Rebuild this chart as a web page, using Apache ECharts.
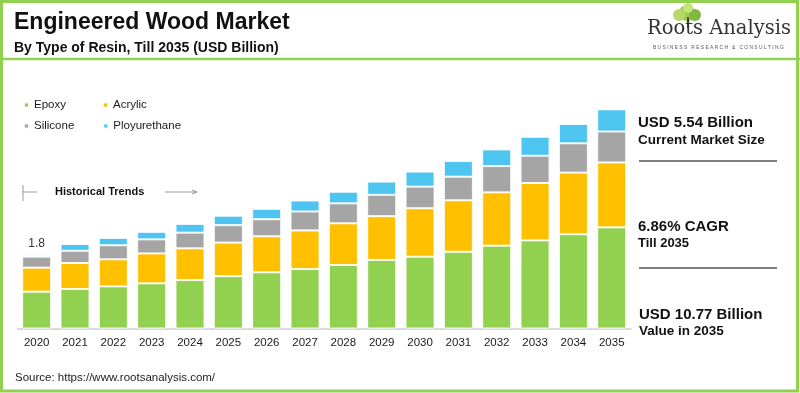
<!DOCTYPE html>
<html>
<head>
<meta charset="utf-8">
<script src="https://cdn.jsdelivr.net/npm/echarts@6/dist/echarts.min.js"></script>
<style>
html,body{margin:0;padding:0;background:#fff;}
#chart{width:800px;height:393px;}
</style>
</head>
<body>
<div id="chart"></div>
<script>
const years = ['2020','2021','2022','2023','2024','2025','2026','2027','2028','2029','2030','2031','2032','2033','2034','2035'];
const epoxy = [1.81,1.94,2.07,2.22,2.38,2.57,2.76,2.92,3.12,3.37,3.53,3.77,4.07,4.33,4.63,4.97];
const acrylic = [1.18,1.28,1.33,1.47,1.56,1.65,1.77,1.90,2.05,2.15,2.38,2.53,2.62,2.82,3.03,3.19];
const silicone = [0.54,0.60,0.69,0.69,0.77,0.86,0.84,0.93,0.98,1.05,1.06,1.16,1.29,1.34,1.44,1.52];
const polyurethane = [0.08,0.33,0.36,0.37,0.43,0.46,0.51,0.54,0.57,0.65,0.74,0.77,0.82,0.93,0.95,1.09];
const firstLabel = '1.8';

const FONT = '"Liberation Sans", Arial, sans-serif';
const C = {green:'#92D050', orange:'#FFC000', gray:'#A5A5A5', blue:'#4DC5F0'};
const chart = echarts.init(document.getElementById('chart'));

function txt(x, y, text, size, weight, color, extra){
  return {type:'text', x:x, y:y, silent:true, style:Object.assign({text:text, fontSize:size, fontWeight:weight||'normal', fontFamily:FONT, fill:color||'#1a1a1a', verticalAlign:'middle', align:'left'}, extra||{})};
}

const mkSeries = (name, data, color) => ({
  name: name, type:'bar', stack:'total', data:data, barWidth:29,
  itemStyle:{color:color, borderColor:'rgba(255,255,255,0.85)', borderWidth:1},
  emphasis:{disabled:true}
});

const series = [
  mkSeries('Epoxy', epoxy, C.green),
  mkSeries('Acrylic', acrylic, C.orange),
  mkSeries('Silicone', silicone, C.gray),
  mkSeries('Ployurethane', polyurethane, C.blue)
];
series[3].label = {show:true, position:'top', distance:5, fontSize:12, color:'#333', fontFamily:FONT,
  formatter: p => p.dataIndex === 0 ? firstLabel : ''};

const lineStyleGray = {stroke:'#7f7f7f', lineWidth:2};

const graphics = [
  // frame
  {type:'rect', shape:{x:1.5, y:1.5, width:796, height:389.5}, style:{fill:'none', stroke:C.green, lineWidth:3}, silent:true},
  {type:'line', shape:{x1:0, y1:59, x2:800, y2:59}, style:{stroke:C.green, lineWidth:2.5}, silent:true},
  // titles
  txt(14, 23, 'Engineered Wood Market', 23, 'bold', '#111'),
  txt(14, 48, 'By Type of Resin, Till 2035 (USD Billion)', 14, 'bold', '#111'),
  // logo
  {type:'circle', shape:{cx:687, cy:13, r:8}, style:{fill:'#9ccc52'}, silent:true},
  {type:'circle', shape:{cx:679, cy:15, r:6}, style:{fill:'#b5d96a'}, silent:true},
  {type:'circle', shape:{cx:695, cy:15, r:6}, style:{fill:'#7fb843'}, silent:true},
  {type:'circle', shape:{cx:688, cy:8, r:5}, style:{fill:'#c8e27a'}, silent:true},
  {type:'line', shape:{x1:688, y1:17, x2:688, y2:28}, style:{stroke:'#4a5a2a', lineWidth:2}, silent:true},
  txt(647, 29, 'Roots Analysis', 19.5, 'normal', '#333', {fontFamily:'"DejaVu Serif", "Liberation Serif", serif'}),
  txt(653, 48, 'B U S I N E S S   R E S E A R C H   &   C O N S U L T I N G', 4.9, 'normal', '#555'),
  // historical trends
  {type:'line', shape:{x1:23, y1:185, x2:23, y2:201}, style:{stroke:'#999', lineWidth:1}, silent:true},
  {type:'line', shape:{x1:23, y1:192, x2:37, y2:192}, style:{stroke:'#999', lineWidth:1}, silent:true},
  txt(55, 192, 'Historical Trends', 11, 'bold', '#111'),
  {type:'line', shape:{x1:165, y1:192, x2:196, y2:192}, style:{stroke:'#999', lineWidth:1}, silent:true},
  {type:'polyline', shape:{points:[[192,190],[197,192],[192,194]]}, style:{stroke:'#999', fill:'none', lineWidth:1}, silent:true},
  // right panel
  txt(638, 123, 'USD 5.54 Billion', 15, 'bold', '#111'),
  txt(638, 140, 'Current Market Size', 13.5, 'bold', '#111'),
  {type:'line', shape:{x1:639, y1:161, x2:777, y2:161}, style:lineStyleGray, silent:true},
  txt(638, 227, '6.86% CAGR', 15, 'bold', '#111'),
  txt(638, 243, 'Till 2035', 13, 'bold', '#111'),
  {type:'line', shape:{x1:639, y1:268, x2:777, y2:268}, style:lineStyleGray, silent:true},
  txt(639, 315, 'USD 10.77 Billion', 15, 'bold', '#111'),
  txt(639, 331, 'Value in 2035', 13.5, 'bold', '#111'),
  // source
  txt(15, 378, 'Source: https://www.rootsanalysis.com/', 11.5, 'normal', '#222')
];

const legendBase = {
  orient:'horizontal', left:23, padding:0, itemWidth:5, itemHeight:5, icon:'rect',
  selectedMode:false,
  textStyle:{fontSize:11.5, color:'#1a1a1a', fontFamily:FONT}
};

chart.setOption({
  backgroundColor:'#fff',
  animation:false,
  legend:[
    Object.assign({}, legendBase, {top:99, itemGap:36, data:['Epoxy','Acrylic']}),
    Object.assign({}, legendBase, {top:120, itemGap:28, data:['Silicone','Ployurethane']})
  ],
  grid:{left:17.5, right:169.1, top:84.3, bottom:64.5, containLabel:false},
  xAxis:{type:'category', data:years,
    axisLine:{lineStyle:{color:'#d0d0d0', width:1.5}},
    axisTick:{show:false},
    axisLabel:{fontSize:11.5, color:'#1a1a1a', fontFamily:FONT, margin:8}
  },
  yAxis:{type:'value', min:0, max:12, show:false, splitLine:{show:false}},
  series:series,
  graphic:graphics
});
</script>
</body>
</html>
